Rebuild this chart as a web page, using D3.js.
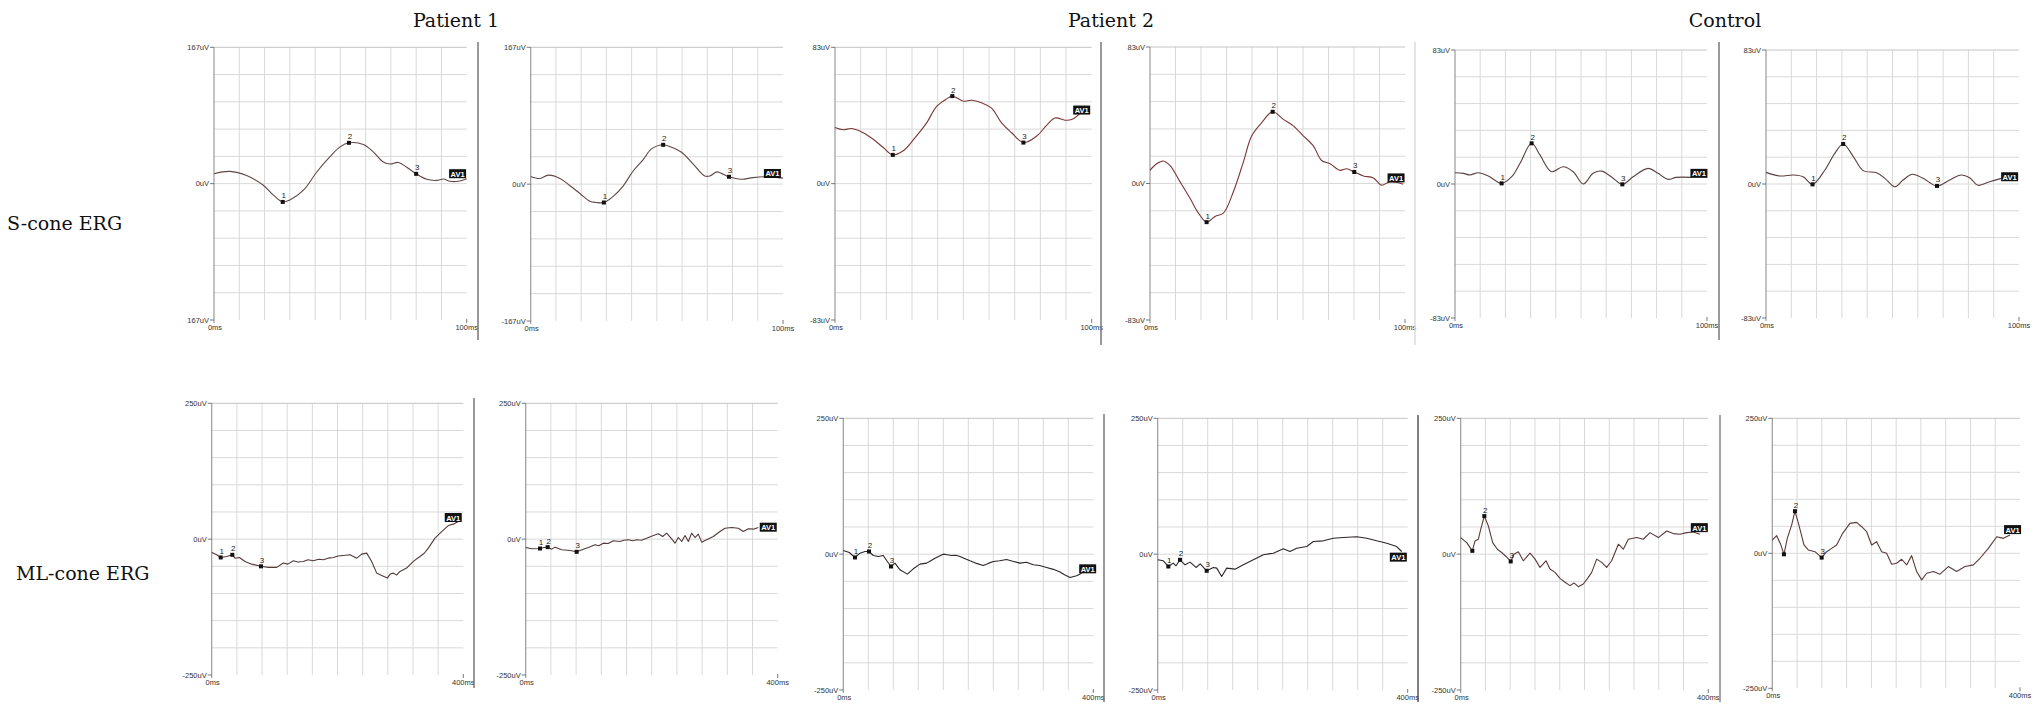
<!DOCTYPE html>
<html><head><meta charset="utf-8">
<script src="https://cdn.jsdelivr.net/npm/d3@7"></script>
<style>body{margin:0;background:#fff;overflow:hidden} svg{display:block}</style>
</head><body>
<svg id="c" width="2042" height="705"></svg>
<script>
// ---------- DATA ----------
const columnTitles = ["Patient 1", "Patient 2", "Control"];
const rowTitles = ["S-cone ERG", "ML-cone ERG"];

const sTimeDomain = [0, 100];
const mlTimeDomain = [0, 400];
const sRangePatient1 = 167;
const sRangeOther = 83;
const mlRange = 250;

const xLabelsS = ["0ms", "100ms"];
const xLabelsML = ["0ms", "400ms"];
const yLabelsP1S = ["167uV", "0uV", "-167uV"];
const yLabelsS = ["83uV", "0uV", "-83uV"];
const yLabelsML = ["250uV", "0uV", "-250uV"];

// S-cone traces [ms, uV]
const sP1a = [[0,12.2],[6.3,15],[12.9,10],[19.5,-2],[23.5,-14],[27.2,-22.4],[30,-20],[35.4,-8],[40.6,14],[45.9,33],[49.9,45],[53.4,50],[59.1,48],[63,39],[67,26.5],[69.7,24],[73,26],[76.3,20],[80,12],[84.2,5.3],[88.1,4],[90.8,5.7],[93.4,2.9],[96.7,2.9],[100,6]];
const sP1b = [[0,9.4],[3.7,6.9],[7,11],[11.6,7],[15.6,-2],[19.5,-11.4],[23.5,-21],[26,-22.4],[29,-22.4],[32.7,-15],[36.7,-2],[40.6,16],[44.6,30],[47.9,43],[52.5,48],[55.8,45],[59.8,39],[64.4,24.5],[69,10],[71,10],[73.9,15],[76.3,12],[78.6,9],[83.5,6],[88.1,8],[93.4,9],[98,8],[100,7.3]];
const sP2a = [[0,34.2],[3.2,32.8],[6.5,33.6],[11,31],[14.9,27],[18.8,22],[22.5,17.5],[26.6,20],[31.2,28],[35.7,37],[39.6,47],[43.5,51.6],[45.7,53.3],[50,50.2],[53.2,50.8],[57.1,49.2],[61,46],[64.9,37],[68.8,31],[73.4,25],[78.6,29],[82.5,35.6],[85.7,40],[89.6,38.6],[92.2,39],[95.5,42.8]];
const sP2b = [[0,8],[2.6,12],[5.2,13.7],[7.8,11],[11.8,1],[15.7,-9],[19,-18],[22.2,-23.5],[25.5,-20],[28.8,-18],[32.7,-5],[36.6,13],[39.9,29],[43.8,37],[48.1,43.6],[52.3,39],[56.2,35],[60.1,29],[64,23],[67.3,14],[70.6,12],[74.5,8],[77.1,9],[80.1,7],[83.7,4.6],[87.6,3.4],[90.8,-1],[94.1,1],[99.3,-0.4]];
const sCa = [[0,7],[3.3,6.6],[5.9,5.6],[9.2,7],[13.2,5],[18.5,0.4],[22.5,4.5],[25.8,12.8],[30.4,25.2],[33.7,18],[38.3,7.6],[42.9,10.7],[46.9,7.6],[50.9,0],[54.8,6.6],[58.1,8],[62,4.5],[66.4,-0.2],[70.7,4.5],[76.6,9.7],[80.6,6.6],[84.5,2.9],[87.8,4.1],[93.8,4.1]];
const sCb = [[0,7.2],[5.5,5],[10.8,5.6],[14.7,4.5],[18.4,-0.2],[23.3,8.7],[27.2,19],[30.5,24.8],[34.5,17],[38.4,8.3],[43.7,7],[47,3.5],[50.9,-1.7],[54.2,2.5],[57.9,6],[62.1,3.5],[67.6,-1.2],[72.6,2.5],[77.2,5.6],[80.5,3.9],[83.8,-0.8],[88.4,1.4],[93,3.5]];

// ML-cone traces [ms, uV]
const mlP1a = [[0,-24.5],[8,-28.8],[14.3,-33.7],[23.8,-31.9],[32.8,-28.8],[37.1,-35],[44,-33.7],[53,-41],[63.6,-46],[78.4,-50],[90,-52],[103.3,-52],[113.9,-44],[121,-46],[129.8,-39.8],[137,-42],[145.7,-41],[153,-38],[161.6,-39.8],[170,-37],[177.5,-38],[185,-35],[193.4,-33.7],[201,-31],[209.3,-30],[219.9,-28.8],[230.5,-35],[238.4,-27.6],[246.4,-25.7],[254.3,-41],[262.3,-62.5],[270.2,-66.8],[279.2,-71.7],[284,-64],[288.7,-62.5],[294,-66],[299.3,-59.4],[309.9,-53.3],[320.5,-41],[331.1,-31.9],[338,-26],[344.4,-16.5],[355,1.8],[365.6,14],[376.2,25],[384.1,27.6],[392,32.5]];
const mlP1b = [[0,-15.3],[9.5,-17.8],[22.7,-17.2],[29.1,-15.3],[34.9,-14.7],[41.3,-18.4],[46.6,-14.7],[57.1,-19.6],[70.4,-20.8],[80.9,-23.3],[91.5,-18.4],[99.5,-15.3],[110,-10.4],[116,-12],[123.3,-7.4],[131,-8],[139.1,-3],[149.7,-4.3],[156,-2],[162.9,-1.2],[170,-3],[176.2,-1.2],[184,-2],[192,1.8],[202.6,6.7],[210.5,9.8],[217.4,4.9],[223.8,11],[231.7,0.6],[237,-7.4],[242.3,3],[247.6,-4.3],[252.9,6.7],[258.2,-4.3],[263.4,11],[268.7,3],[274,9.2],[279.3,-5.5],[287.2,-1.2],[297.8,4.9],[308.4,14],[316.3,20],[326.9,21.4],[337.5,20],[345.4,14],[353.4,19],[361.3,18.4],[369.3,21.4]];
const mlP2a = [[0,6.7],[9.6,3],[18.7,-6.1],[26.7,1.8],[34.7,4.9],[41.1,4.9],[48,-2.5],[56,-4.3],[64,-2.5],[69.3,-11.6],[76.3,-22.7],[82.7,-16.5],[90.7,-28.8],[102.4,-36.8],[112,-27],[122.7,-18.4],[133.3,-16.5],[140,-12],[146.7,-7.4],[153,-4],[160,0],[166,-1],[173.3,-2.5],[180,-2],[186.7,-4.3],[194,-8],[202.7,-12.3],[213,-17],[224,-20.8],[232,-17],[240,-13.5],[250,-12],[261.3,-9.8],[271,-13],[282.7,-16.5],[293,-15],[304,-19.6],[314,-21],[325.3,-24.5],[336,-28],[346.7,-33],[354,-38],[362.7,-42.9],[373.3,-39.8],[381.3,-35]];
const mlP2b = [[0,-10.4],[9,-12.3],[17,-22.7],[25,-16.5],[29.3,-21.4],[35.7,-10.4],[43.7,-19.6],[51.7,-14.7],[61.3,-24.5],[68,-17.8],[78.4,-30.6],[89,-24.5],[94.4,-25.7],[102.4,-41],[110.4,-25.7],[123.7,-27.6],[137,-19.6],[153,-10.4],[169,-1.2],[185,1.8],[201,9.8],[211.7,4.9],[222.4,11],[238.4,14],[249,23.3],[265,24.5],[281,29.4],[297,30.6],[318.4,31.9],[334.4,29.4],[350.4,24.5],[366.4,20.2],[382.4,14],[390.4,4.9]];
const mlCa = [[0,30.5],[9.7,21.3],[18.8,6.1],[23.2,24.4],[28.5,27.4],[32.3,45.7],[38.2,70],[44.7,51.8],[51.7,21.3],[59.2,9.1],[66.2,3],[73.2,-4.3],[80.8,-13.4],[86.1,0],[93.1,4.3],[101.2,-12.2],[112,1.8],[120.1,-9.1],[128.1,-24.4],[137.8,-12.2],[144.3,-27.4],[152.4,-33.5],[160.4,-44.5],[168.5,-51.8],[176.6,-57.9],[183,-53],[190,-59.8],[198.1,-54.9],[206.2,-42.7],[211.6,-33.5],[219.7,-9.1],[227.7,-15.2],[235.8,-24.4],[243.9,-12.2],[254.7,18.3],[262.7,9.1],[270.8,27.4],[284.3,30.5],[295,27.4],[305.8,39.6],[319.3,30.5],[332.7,42.7],[343.5,37.8],[354.3,36.6],[365,39.6],[375.8,40.9],[386.6,36.6]];
const mlCb = [[0,24.6],[7,32.6],[13.5,16.6],[18.8,-1.8],[24.2,27.7],[31.2,52.3],[36.6,78],[43,52.3],[51.1,15.4],[58.1,6.2],[68.9,3],[79.7,-8],[87.8,3],[95.8,9.2],[103.9,15.4],[113.6,37],[125.4,55.4],[136.2,57.2],[144.3,49.2],[152.4,40],[160.4,15.4],[168.5,21.5],[176.6,3],[184.7,0],[192.7,-20.3],[200.8,-18.5],[208.9,-11],[217,-21.5],[225,-4.3],[233.1,-33.8],[241.2,-49.2],[249.3,-36.9],[260,-33.8],[270.8,-38.7],[284.3,-24.6],[297.7,-33.8],[311.2,-24.6],[324.7,-21.5],[335.4,-9.2],[348.9,9.2],[362.4,30.7],[373.1,27.7],[383.9,33.8]];

// Peak markers [label, ms, uV]
const mkP1a = [["1",27.2,-22.4],["2",53.4,50],["3",80,12]];
const mkP1b = [["1",29,-22.4],["2",52.5,48],["3",78.6,9]];
const mkP2a = [["1",22.5,17.5],["2",45.7,53.3],["3",73.4,25]];
const mkP2b = [["1",22.2,-23.5],["2",48.1,43.6],["3",80.1,7]];
const mkCa = [["1",18.5,0.4],["2",30.4,25.2],["3",66.4,-0.2]];
const mkCb = [["1",18.4,-0.2],["2",30.5,24.8],["3",67.6,-1.2]];
const mkMP1a = [["1",14.3,-33.7],["2",32.8,-28.8],["3",78.4,-50]];
const mkMP1b = [["1",22.7,-17.2],["2",34.9,-14.7],["3",80.9,-23.3]];
const mkMP2a = [["1",18.7,-6.1],["2",41.1,4.9],["3",76.3,-22.7]];
const mkMP2b = [["1",17,-22.7],["2",35.7,-10.4],["3",78.4,-30.6]];
const mkMCa = [["",18.8,6.1],["2",38.2,70],["3",80.8,-13.4]];
const mkMCb = [["",18.8,-1.8],["2",36.6,78],["3",79.7,-8]];

// AV1 tag anchor [ms, uV]
const avTags = [[96.4,12.2],[95.8,13],[96.1,44.8],[96.5,3.4],[96.8,6.6],[96.3,4.5],
                [384,39.8],[385,22],[391,-27],[385,-5.5],[385.5,48.8],[388,43.9]];

// ---------- LAYOUT ----------
const svg = d3.select("#c");
const sansFont = "'Liberation Sans', Arial, sans-serif";
const serifFont = "'DejaVu Serif', serif";

const panels = [
  {L:214, T:47.3, R:466.7, B:320, clipL:186, tr:sP1a, mk:mkP1a, xd:sTimeDomain, yr:sRangePatient1, yl:["167uV","0uV","167uV"], xl:xLabelsS, col:"#604644", curve:"smooth"},
  {L:530.7, T:47.3, R:783, B:321, tr:sP1b, mk:mkP1b, xd:sTimeDomain, yr:sRangePatient1, yl:yLabelsP1S, xl:xLabelsS, col:"#604644", curve:"smooth"},
  {L:835, T:47.3, R:1091.7, B:320, tr:sP2a, mk:mkP2a, xd:sTimeDomain, yr:sRangeOther, yl:yLabelsS, xl:xLabelsS, col:"#7a3838", curve:"smooth"},
  {L:1150, T:47, R:1405, B:320, tr:sP2b, mk:mkP2b, xd:sTimeDomain, yr:sRangeOther, yl:yLabelsS, xl:xLabelsS, col:"#7a3838", curve:"smooth"},
  {L:1455, T:50, R:1707, B:318, tr:sCa, mk:mkCa, xd:sTimeDomain, yr:sRangeOther, yl:yLabelsS, xl:xLabelsS, col:"#5c4040", curve:"smooth"},
  {L:1766, T:50, R:2019, B:318, tr:sCb, mk:mkCb, xd:sTimeDomain, yr:sRangeOther, yl:yLabelsS, xl:xLabelsS, col:"#5c4040", curve:"smooth"},
  {L:211.7, T:403.3, R:463.3, B:675, clipL:181, tr:mlP1a, mk:mkMP1a, xd:mlTimeDomain, yr:mlRange, yl:yLabelsML, xl:xLabelsML, col:"#553a3a", curve:"lin"},
  {L:525.7, T:403.3, R:777.7, B:675, tr:mlP1b, mk:mkMP1b, xd:mlTimeDomain, yr:mlRange, yl:yLabelsML, xl:xLabelsML, col:"#553a3a", curve:"lin"},
  {L:843.3, T:418.3, R:1093.3, B:690, tr:mlP2a, mk:mkMP2a, xd:mlTimeDomain, yr:mlRange, yl:yLabelsML, xl:xLabelsML, col:"#2e2626", curve:"lin"},
  {L:1157.7, T:418.3, R:1407.7, B:690, tr:mlP2b, mk:mkMP2b, xd:mlTimeDomain, yr:mlRange, yl:yLabelsML, xl:xLabelsML, col:"#2e2626", curve:"lin"},
  {L:1460.7, T:418.3, R:1708.3, B:690, tr:mlCa, mk:mkMCa, xd:mlTimeDomain, yr:mlRange, yl:yLabelsML, xl:xLabelsML, col:"#5c3a3a", curve:"lin"},
  {L:1772.3, T:418.3, R:2020, B:688.3, tr:mlCb, mk:mkMCb, xd:mlTimeDomain, yr:mlRange, yl:yLabelsML, xl:xLabelsML, col:"#5c3a3a", curve:"lin"}
];

const defs = svg.append("defs");

panels.forEach((p, i) => {
  const x = d3.scaleLinear().domain(p.xd).range([p.L, p.R]);
  const y = d3.scaleLinear().domain([-p.yr, p.yr]).range([p.B, p.T]);
  const cl = p.clipL !== undefined ? p.clipL : p.L - 45;
  defs.append("clipPath").attr("id", "clip" + i)
    .append("rect").attr("x", cl).attr("y", p.T - 10).attr("width", p.R + 14 - cl).attr("height", p.B - p.T + 30);
  const g = svg.append("g").attr("clip-path", `url(#clip${i})`);

  // grid
  const xs = d3.range(1, 10).map(k => p.xd[0] + k * (p.xd[1] - p.xd[0]) / 10);
  const ys = d3.range(1, 11).map(k => -p.yr + k * (2 * p.yr) / 10);
  g.selectAll(".vg").data(xs).join("line")
    .attr("x1", d => x(d)).attr("x2", d => x(d)).attr("y1", p.T).attr("y2", p.B)
    .attr("stroke", "#d9d9d9").attr("stroke-width", 1);
  g.selectAll(".hg").data(ys).join("line")
    .attr("x1", p.L).attr("x2", p.R).attr("y1", d => y(d)).attr("y2", d => y(d))
    .attr("stroke", d => d === p.yr ? "#c4c4c4" : "#d9d9d9").attr("stroke-width", 1);
  // left axis
  g.append("line").attr("x1", p.L).attr("x2", p.L).attr("y1", p.T).attr("y2", p.B + 3)
    .attr("stroke", "#9a9a9a").attr("stroke-width", 1.2);
  // y labels + ticks
  const yv = [p.yr, 0, -p.yr];
  yv.forEach((v, k) => {
    g.append("line").attr("x1", p.L - 4).attr("x2", p.L).attr("y1", y(v)).attr("y2", y(v))
      .attr("stroke", "#555").attr("stroke-width", 0.8);
    g.append("text").attr("x", p.L - 5).attr("y", y(v) + 2.6).attr("text-anchor", "end")
      .attr("font-family", sansFont).attr("font-size", 7.5).attr("fill", "#333").text(p.yl[k]);
  });
  // x labels + ticks
  g.append("line").attr("x1", p.R).attr("x2", p.R).attr("y1", p.B - 1).attr("y2", p.B + 3)
    .attr("stroke", "#555").attr("stroke-width", 0.8);
  g.append("text").attr("x", p.L + 1).attr("y", p.B + 10).attr("text-anchor", "middle")
    .attr("font-family", sansFont).attr("font-size", 7.5).attr("fill", "#333").text(p.xl[0]);
  g.append("text").attr("x", p.R).attr("y", p.B + 10).attr("text-anchor", "middle")
    .attr("font-family", sansFont).attr("font-size", 7.5).attr("fill", "#333").text(p.xl[1]);

  // trace
  const line = d3.line().x(d => x(d[0])).y(d => y(d[1]))
    .curve(p.curve === "smooth" ? d3.curveCatmullRom.alpha(0.5) : d3.curveLinear);
  g.append("path").datum(p.tr).attr("d", line).attr("fill", "none")
    .attr("stroke", p.col).attr("stroke-width", 1.1).attr("stroke-linejoin", "round");

  // markers
  g.selectAll(".mk").data(p.mk).join("rect")
    .attr("x", d => x(d[1]) - 2).attr("y", d => y(d[2]) - 2).attr("width", 4).attr("height", 4)
    .attr("fill", "#111");
  g.selectAll(".mkl").data(p.mk).join("text")
    .attr("x", d => x(d[1]) + 1).attr("y", d => y(d[2]) - 3.5).attr("text-anchor", "middle")
    .attr("font-family", sansFont).attr("font-size", 8).attr("fill", "#222").text(d => d[0]);

  // AV1 tag
  const av = avTags[i];
  const ax = x(av[0]), ay = y(av[1]);
  g.append("rect").attr("x", ax - 8.5).attr("y", ay - 4.5).attr("width", 17).attr("height", 9).attr("fill", "#111");
  g.append("text").attr("x", ax).attr("y", ay + 3).attr("text-anchor", "middle")
    .attr("font-family", sansFont).attr("font-size", 7.5).attr("font-weight", "bold").attr("fill", "#fff").text("AV1");
});

// separators between panel screenshots
const seps = [
  {x:478, y1:42, y2:340, c:"#777"}, {x:1101, y1:42, y2:345, c:"#777"}, {x:1415, y1:42, y2:345, c:"#ddd"}, {x:1719, y1:42, y2:340, c:"#777"},
  {x:474, y1:398, y2:688, c:"#777"}, {x:1104, y1:414, y2:702, c:"#777"}, {x:1418, y1:415, y2:702, c:"#555"}, {x:1720, y1:415, y2:702, c:"#888"}
];
svg.selectAll(".sep").data(seps).join("line")
  .attr("x1", d => d.x).attr("x2", d => d.x).attr("y1", d => d.y1).attr("y2", d => d.y2)
  .attr("stroke", d => d.c).attr("stroke-width", 1.5);

// titles
const colX = [456, 1111, 1725];
svg.selectAll(".ct").data(columnTitles).join("text")
  .attr("x", (d, k) => colX[k]).attr("y", 27).attr("text-anchor", "middle")
  .attr("font-family", serifFont).attr("font-size", 19).attr("fill", "#111").text(d => d);
const rowY = [230, 580];
const rowX = [7, 16];
svg.selectAll(".rt").data(rowTitles).join("text")
  .attr("x", (d, k) => rowX[k]).attr("y", (d, k) => rowY[k])
  .attr("font-family", serifFont).attr("font-size", 19).attr("fill", "#111").text(d => d);
</script>
</body></html>
